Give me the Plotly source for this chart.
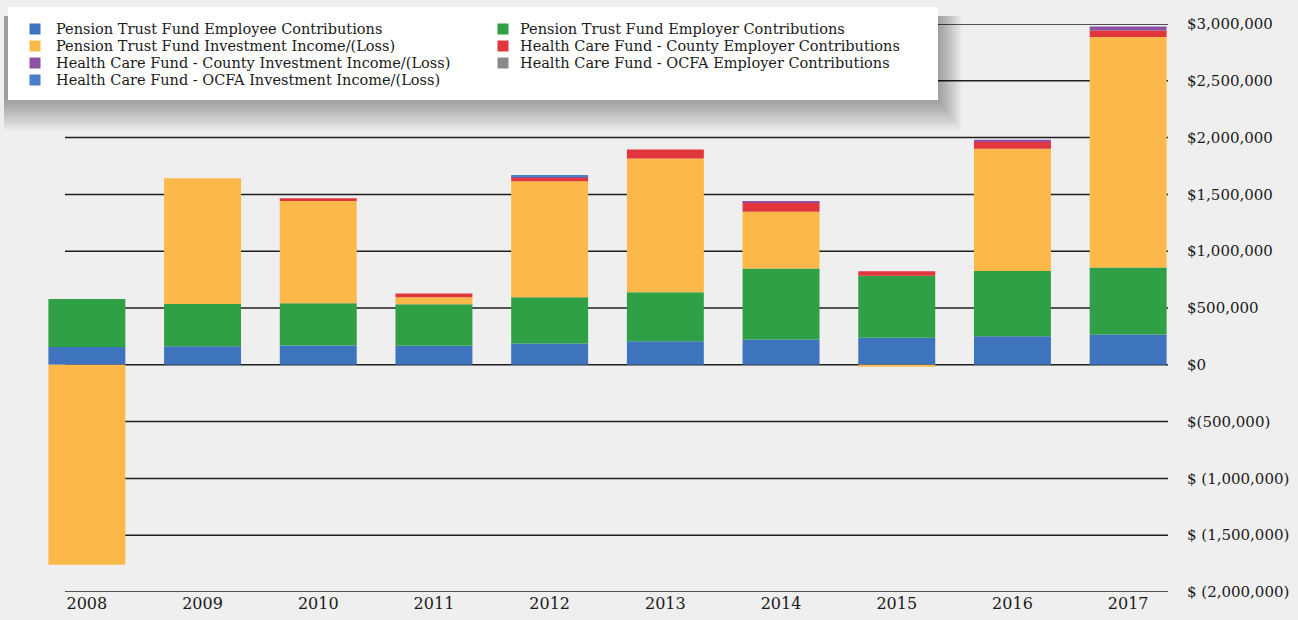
import plotly.graph_objects as go

# ---------------- data ----------------
years = ["2008", "2009", "2010", "2011", "2012", "2013", "2014", "2015", "2016", "2017"]

pension_employee = [156000, 164000, 170000, 167000, 187000, 207000, 223000, 239000, 252000, 266000]
pension_employer = [424000, 372000, 371000, 365000, 408000, 432000, 624000, 544000, 574000, 591000]
pension_investment = [-1760000, 1106000, 900000, 62000, 1021000, 1177000, 500000, -18000, 1076000, 2029000]
hc_county_employer = [0, 0, 25000, 33000, 31000, 79000, 83000, 40000, 63000, 57000]
hc_county_investment = [0, 0, 0, 0, 14000, 0, 5000, 0, 16000, 34000]
hc_ocfa_employer = [0, 0, 0, 0, 0, 0, 0, 0, 0, 0]
hc_ocfa_investment = [0, 0, 0, 0, 4000, 0, 0, 0, 0, 0]

series_names = [
    "Pension Trust Fund Employee Contributions",
    "Pension Trust Fund Employer Contributions",
    "Pension Trust Fund Investment Income/(Loss)",
    "Health Care Fund - County Employer Contributions",
    "Health Care Fund - County Investment Income/(Loss)",
    "Health Care Fund - OCFA Employer Contributions",
    "Health Care Fund - OCFA Investment Income/(Loss)",
]
series_values = [pension_employee, pension_employer, pension_investment,
                 hc_county_employer, hc_county_investment, hc_ocfa_employer, hc_ocfa_investment]
series_colors = ["#3e73bd", "#2fa045", "#fdb84a", "#e0363c", "#8e50a3", "#8a8a8d", "#4a7ec6"]

tick_vals = [3000000, 2500000, 2000000, 1500000, 1000000, 500000, 0,
             -500000, -1000000, -1500000, -2000000]
tick_text = ["$3,000,000", "$2,500,000", "$2,000,000", "$1,500,000", "$1,000,000", "$500,000", "$0",
             "$(500,000)", "$ (1,000,000)", "$ (1,500,000)", "$ (2,000,000)"]

# legend layout (series index, column, row) -- two columns as in the source
legend_order = [
    (0, 0, 0), (2, 0, 1), (4, 0, 2), (6, 0, 3),
    (1, 1, 0), (3, 1, 1), (5, 1, 2),
]

# ---------------- geometry ----------------
W, H = 1298, 620
ML, MR, MT, MB = 29, 112, 24, 28
PW, PH = W - ML - MR, H - MT - MB


def px(x):
    return (x - ML) / PW


def py(y):
    return 1 - (y - MT) / PH


FONT = "DejaVu Serif"

fig = go.Figure()
for name, vals, col in zip(series_names, series_values, series_colors):
    fig.add_trace(go.Bar(
        x=years, y=vals, name=name, marker=dict(color=col, line=dict(width=0)),
        width=0.665, showlegend=False,
    ))

shapes = []
# gridlines (drawn behind the bars, starting a little right of the left edge as in the source)
for v in tick_vals:
    shapes.append(dict(type="line", xref="paper", yref="y", x0=px(65), x1=px(1168), y0=v, y1=v,
                       line=dict(color="#1e1e1e", width=1.5), layer="below"))
# soft shadow of the legend box
for k in range(14):
    shapes.append(dict(type="rect", xref="paper", yref="paper",
                       x0=px(4), x1=px(938 + 1.8 * k), y0=py(100 + 2.3 * k), y1=py(16),
                       fillcolor="rgba(0,0,0,0.028)", line=dict(width=0), layer="above"))
# legend box
shapes.append(dict(type="rect", xref="paper", yref="paper", x0=px(8), x1=px(938), y0=py(100), y1=py(7),
                   fillcolor="white", line=dict(width=0), layer="above"))

annotations = []
col_marker_x = [35, 503]
col_text_x = [55, 519]
row_y = [29, 46, 63, 80]
for idx, c, r in legend_order:
    shapes.append(dict(type="rect", xref="paper", yref="paper",
                       x0=px(col_marker_x[c] - 5.5), x1=px(col_marker_x[c] + 5.5),
                       y0=py(row_y[r] + 5.5), y1=py(row_y[r] - 5.5),
                       fillcolor=series_colors[idx], line=dict(width=0), layer="above"))
    annotations.append(dict(xref="paper", yref="paper", x=px(col_text_x[c]), y=py(row_y[r]),
                            text=series_names[idx], showarrow=False, xanchor="left", yanchor="middle",
                            borderpad=0, font=dict(family=FONT, size=14.5, color="#1a1a1a")))

fig.update_layout(
    width=W, height=H,
    margin=dict(l=ML, r=MR, t=MT, b=MB, autoexpand=False),
    barmode="relative",
    paper_bgcolor="#efefef",
    plot_bgcolor="rgba(0,0,0,0)",
    showlegend=False,
    shapes=shapes,
    annotations=annotations,
    xaxis=dict(type="category", showgrid=False, zeroline=False, showline=False, ticks="",
               automargin=False,
               tickfont=dict(family=FONT, size=16, color="#1a1a1a"), range=[-0.5, 9.5]),
    yaxis=dict(side="right", range=[-2000000, 3000000], tickvals=tick_vals, ticktext=tick_text,
               showgrid=False, zeroline=False, showline=False, ticks="", automargin=False,
               tickfont=dict(family=FONT, size=15, color="#1a1a1a")),
)

fig.write_html("out.html", config={"displayModeBar": False},
               post_script="document.body.style.margin='0px';")
